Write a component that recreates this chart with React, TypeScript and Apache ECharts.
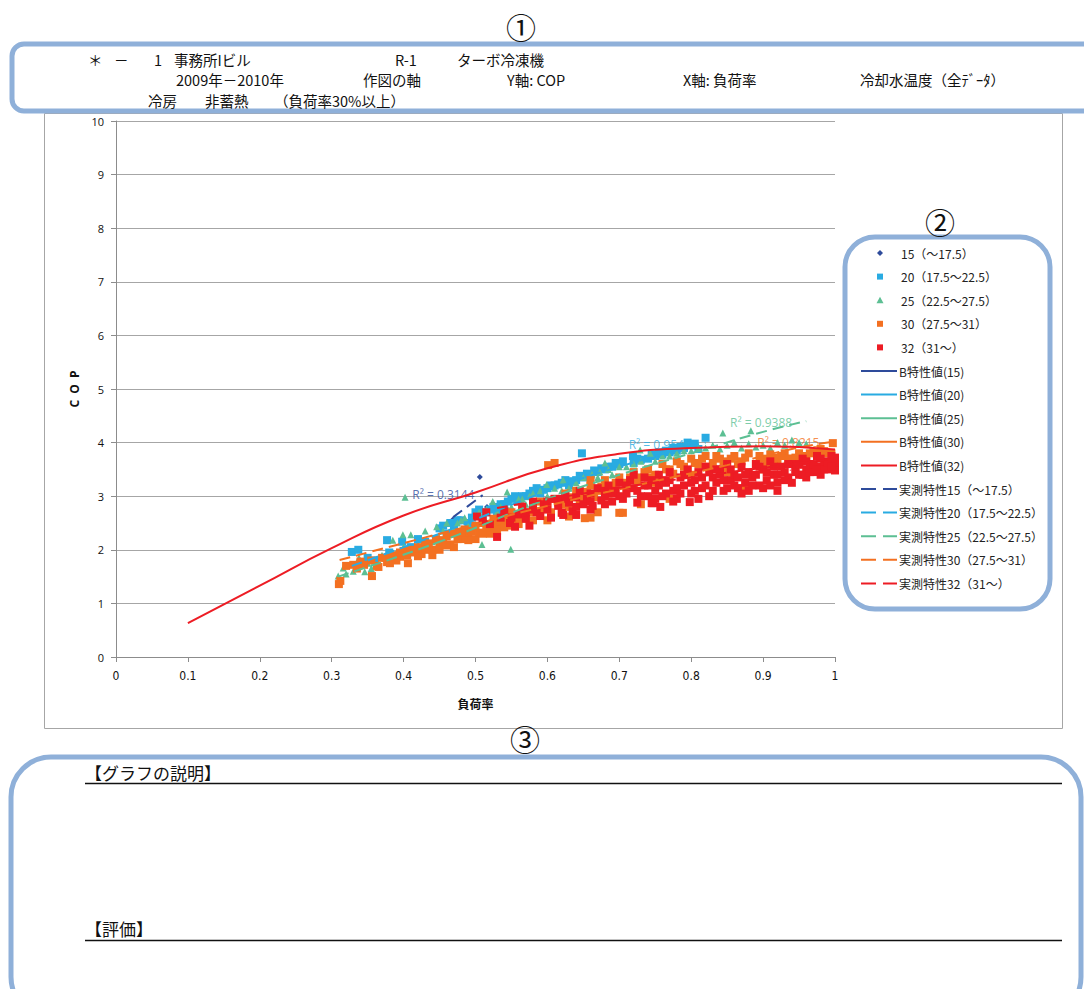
import React, { useEffect, useRef } from "react";
import * as echarts from "echarts";

// ---------- data ----------
const xTickValues = [0, 0.1, 0.2, 0.3, 0.4, 0.5, 0.6, 0.7, 0.8, 0.9, 1];
const yTickValues = [0, 1, 2, 3, 4, 5, 6, 7, 8, 9, 10];

const scatterNames = ["15（～17.5）", "20（17.5～22.5）", "25（22.5～27.5）", "30（27.5～31）", "32（31～）"];
const bNames = ["B特性値(15)", "B特性値(20)", "B特性値(25)", "B特性値(30)", "B特性値(32)"];
const trendNames = ["実測特性15（～17.5）", "実測特性20（17.5～22.5）", "実測特性25（22.5～27.5）", "実測特性30（27.5～31）", "実測特性32（31～）"];
const colors = ["#2e4b9b", "#29abe2", "#5cbf93", "#f37021", "#ed1c24"];

const pts15 = [[0.469, 2.57], [0.506, 3.36], [0.516, 2.8]];

const pts20 = [
  [0.328, 1.96], [0.337, 2.0], [0.35, 1.85], [0.36, 1.8], [0.377, 2.18], [0.38, 1.95], [0.398, 2.15],
  [0.41, 2.05], [0.42, 2.2], [0.43, 2.15], [0.45, 2.4], [0.46, 2.3], [0.47, 2.45], [0.48, 2.55],
  [0.49, 2.5], [0.5, 2.7], [0.51, 2.6], [0.52, 2.75], [0.53, 2.7], [0.54, 2.85], [0.55, 2.95],
  [0.56, 2.9], [0.57, 3.0], [0.58, 3.1], [0.59, 3.05], [0.6, 3.15], [0.61, 3.2], [0.62, 3.25],
  [0.63, 3.2], [0.64, 3.3], [0.648, 3.8], [0.65, 3.35], [0.66, 3.4], [0.67, 3.45], [0.68, 3.5],
  [0.69, 3.55], [0.7, 3.6], [0.719, 3.75], [0.72, 3.62], [0.73, 3.68], [0.74, 3.7], [0.75, 3.75],
  [0.76, 3.78], [0.77, 3.82], [0.78, 3.85], [0.785, 3.92], [0.79, 3.9], [0.795, 4.0], [0.8, 3.95],
  [0.81, 3.88], [0.82, 4.09],
  [0.455, 2.45], [0.465, 2.5], [0.475, 2.55], [0.495, 2.6], [0.505, 2.75], [0.515, 2.7], [0.525, 2.8],
  [0.535, 2.85], [0.545, 2.9], [0.555, 3.0], [0.565, 3.0], [0.575, 3.05], [0.585, 3.15], [0.595, 3.12],
  [0.605, 3.2], [0.615, 3.22], [0.625, 3.3], [0.635, 3.28], [0.645, 3.38], [0.655, 3.42], [0.665, 3.48],
  [0.675, 3.52], [0.685, 3.55], [0.695, 3.62], [0.705, 3.65], [0.725, 3.7], [0.745, 3.78], [0.755, 3.82],
  [0.765, 3.85], [0.775, 3.9], [0.805, 3.98]
];

const pts25 = [
  [0.309, 1.51], [0.316, 1.66], [0.32, 1.55], [0.338, 1.85], [0.346, 1.59], [0.35, 1.75], [0.36, 1.7],
  [0.37, 1.9], [0.385, 2.18], [0.39, 1.95], [0.399, 2.28], [0.4, 2.05], [0.402, 2.98], [0.41, 2.28],
  [0.42, 2.1], [0.43, 2.35], [0.44, 2.15], [0.446, 2.43], [0.45, 2.2], [0.46, 2.5], [0.47, 2.35],
  [0.48, 2.55], [0.49, 2.45], [0.5, 2.65], [0.509, 2.1], [0.51, 2.55], [0.52, 2.5], [0.524, 2.9],
  [0.53, 2.7], [0.544, 3.08], [0.549, 2.01], [0.55, 2.8], [0.56, 2.95], [0.57, 2.85], [0.58, 3.05],
  [0.599, 3.22], [0.6, 3.0], [0.622, 3.3], [0.63, 3.15], [0.65, 3.35], [0.662, 3.41], [0.673, 3.45],
  [0.68, 3.62], [0.69, 3.4], [0.7, 3.55], [0.72, 3.6], [0.729, 3.86], [0.743, 3.8], [0.75, 3.65],
  [0.77, 3.75], [0.79, 3.85], [0.81, 3.9], [0.83, 3.95], [0.844, 4.18], [0.85, 3.95], [0.86, 4.0],
  [0.87, 3.9], [0.88, 3.98], [0.883, 4.22], [0.9, 3.95], [0.92, 4.0], [0.94, 4.05], [0.96, 3.98],
  [0.455, 2.35], [0.475, 2.5], [0.485, 2.6], [0.505, 2.7], [0.515, 2.75], [0.535, 2.8], [0.545, 2.75],
  [0.565, 2.95], [0.575, 3.0], [0.59, 3.1], [0.61, 3.15], [0.62, 3.1], [0.64, 3.25], [0.66, 3.3],
  [0.67, 3.35], [0.685, 3.5], [0.71, 3.55], [0.73, 3.65], [0.76, 3.75], [0.78, 3.8], [0.8, 3.85],
  [0.82, 3.9], [0.84, 3.88], [0.89, 3.92], [0.91, 3.9], [0.93, 3.95], [0.95, 4.0], [0.33, 1.6], [0.355, 1.65]
];

const pts30 = [
  [0.31, 1.36], [0.312, 1.42], [0.32, 1.7], [0.33, 1.72], [0.34, 1.78], [0.356, 1.51], [0.363, 1.7],
  [0.37, 1.85], [0.377, 1.77], [0.381, 1.75], [0.385, 1.9], [0.395, 1.87], [0.4, 1.98], [0.406, 1.75],
  [0.41, 2.0], [0.42, 2.05], [0.425, 1.92], [0.43, 2.1], [0.44, 2.0], [0.44, 1.9], [0.445, 2.2],
  [0.45, 2.12], [0.46, 2.25], [0.465, 2.1], [0.47, 2.3], [0.47, 2.05], [0.48, 2.2], [0.485, 2.38],
  [0.49, 2.28], [0.5, 2.45], [0.5, 2.2], [0.505, 2.32], [0.51, 2.5], [0.52, 2.4], [0.52, 2.3],
  [0.525, 2.58], [0.53, 2.45], [0.54, 2.6], [0.545, 2.52], [0.55, 2.7], [0.55, 2.45], [0.56, 2.6],
  [0.565, 2.78], [0.57, 2.65], [0.58, 2.85], [0.58, 2.55], [0.585, 2.72], [0.59, 2.9], [0.6, 2.8],
  [0.601, 3.58], [0.61, 3.62], [0.61, 2.95], [0.62, 2.85], [0.62, 2.7], [0.625, 3.05], [0.63, 2.95],
  [0.64, 3.1], [0.65, 3.0], [0.652, 2.59], [0.66, 2.6], [0.66, 3.2], [0.66, 3.3], [0.67, 3.1],
  [0.68, 3.3], [0.69, 3.15], [0.7, 2.69], [0.705, 2.69], [0.7, 3.35], [0.71, 3.25], [0.72, 3.45],
  [0.73, 3.35], [0.74, 3.5], [0.75, 3.4], [0.75, 3.25], [0.76, 3.6], [0.77, 3.5], [0.78, 3.65],
  [0.79, 3.55], [0.8, 3.7], [0.8, 3.4], [0.81, 3.6], [0.82, 3.75], [0.83, 3.62], [0.84, 3.7],
  [0.85, 3.55], [0.85, 3.45], [0.86, 3.75], [0.868, 3.15], [0.875, 3.15], [0.87, 3.65], [0.88, 3.8],
  [0.89, 3.6], [0.9, 3.7], [0.9, 3.5], [0.91, 3.78], [0.92, 3.65], [0.93, 3.8], [0.94, 3.7],
  [0.95, 3.8], [0.96, 3.75], [0.97, 3.82], [0.98, 3.88], [0.99, 3.8], [0.997, 3.99],
  [0.335, 1.65], [0.345, 1.72], [0.355, 1.8], [0.365, 1.68], [0.375, 1.85], [0.39, 1.8], [0.395, 1.95],
  [0.405, 1.9], [0.415, 1.95], [0.42, 1.88], [0.43, 2.0], [0.435, 2.12], [0.45, 2.0], [0.455, 2.18],
  [0.46, 2.08], [0.475, 2.2], [0.48, 2.32], [0.49, 2.18], [0.495, 2.35], [0.51, 2.3], [0.515, 2.42],
  [0.53, 2.35], [0.535, 2.52], [0.54, 2.42], [0.555, 2.55], [0.56, 2.48], [0.57, 2.58], [0.575, 2.7],
  [0.59, 2.65], [0.595, 2.78], [0.605, 2.7], [0.615, 2.88], [0.63, 2.8], [0.635, 2.98], [0.645, 2.9],
  [0.655, 3.08], [0.665, 2.98], [0.675, 3.18], [0.685, 3.05], [0.695, 3.25], [0.71, 3.15], [0.715, 3.35],
  [0.725, 3.3], [0.735, 3.45], [0.745, 3.35], [0.765, 3.5], [0.775, 3.42], [0.785, 3.6], [0.795, 3.48],
  [0.805, 3.62], [0.815, 3.7], [0.825, 3.55], [0.835, 3.75], [0.845, 3.65], [0.855, 3.7], [0.865, 3.6],
  [0.875, 3.72], [0.895, 3.75], [0.905, 3.62], [0.915, 3.72], [0.925, 3.75], [0.935, 3.7], [0.945, 3.72],
  [0.955, 3.7], [0.965, 3.8], [0.975, 3.76], [0.985, 3.84], [0.995, 3.8],
  [0.6, 2.55], [0.63, 2.62], [0.67, 2.7], [0.73, 2.85], [0.77, 2.95]
];

const pts32 = [
  [0.502, 2.62], [0.51, 2.55], [0.515, 2.7], [0.52, 2.48], [0.53, 2.24], [0.535, 2.6], [0.54, 2.72],
  [0.548, 2.5], [0.555, 2.43], [0.56, 2.66], [0.565, 2.8], [0.57, 2.58], [0.575, 2.45], [0.58, 2.9],
  [0.58, 2.75], [0.585, 2.7], [0.59, 2.63], [0.595, 2.85], [0.6, 2.75], [0.605, 2.6], [0.61, 2.95],
  [0.615, 2.82], [0.62, 2.69], [0.62, 2.95], [0.625, 3.0], [0.63, 2.88], [0.635, 2.72], [0.64, 2.98],
  [0.64, 2.8], [0.645, 3.1], [0.65, 2.85], [0.655, 2.95], [0.66, 3.05], [0.66, 2.9], [0.663, 2.82],
  [0.67, 3.15], [0.675, 2.92], [0.68, 3.0], [0.68, 3.1], [0.685, 3.2], [0.69, 2.9], [0.695, 3.1],
  [0.7, 3.25], [0.705, 2.95], [0.71, 3.05], [0.715, 3.3], [0.72, 3.15], [0.72, 3.4], [0.725, 2.88],
  [0.73, 3.0], [0.735, 3.35], [0.74, 3.2], [0.74, 3.0], [0.745, 2.87], [0.75, 3.1], [0.755, 3.4],
  [0.757, 2.8], [0.76, 3.0], [0.76, 3.3], [0.765, 3.25], [0.77, 3.45], [0.775, 3.1], [0.78, 2.95],
  [0.78, 3.15], [0.785, 3.35], [0.79, 3.2], [0.795, 3.5], [0.8, 3.05], [0.805, 3.3], [0.81, 3.45],
  [0.815, 3.15], [0.82, 3.55], [0.82, 3.2], [0.825, 3.0], [0.83, 3.35], [0.835, 3.25], [0.84, 3.5],
  [0.84, 3.4], [0.845, 3.1], [0.85, 3.6], [0.855, 3.3], [0.86, 3.4], [0.86, 3.2], [0.865, 3.15],
  [0.87, 3.55], [0.875, 3.25], [0.88, 3.45], [0.88, 3.1], [0.885, 3.35], [0.89, 3.6], [0.895, 3.2],
  [0.9, 3.5], [0.9, 3.15], [0.905, 3.3], [0.91, 3.65], [0.915, 3.4], [0.92, 3.25], [0.92, 3.1],
  [0.925, 3.55], [0.93, 3.45], [0.935, 3.35], [0.94, 3.6], [0.945, 3.5], [0.95, 3.4], [0.955, 3.7],
  [0.96, 3.5], [0.96, 3.35], [0.965, 3.6], [0.97, 3.45], [0.975, 3.75], [0.98, 3.55], [0.98, 3.4],
  [0.985, 3.65], [0.99, 3.5], [0.995, 3.75], [1.0, 3.6], [1.0, 3.48],
  [0.7, 3.0], [0.71, 3.2], [0.725, 3.1], [0.735, 3.2], [0.745, 3.3], [0.75, 2.95], [0.755, 3.2],
  [0.765, 3.05], [0.77, 3.3], [0.775, 2.9], [0.785, 3.05], [0.79, 3.4], [0.8, 3.25], [0.805, 3.1],
  [0.81, 2.95], [0.815, 3.35], [0.825, 3.45], [0.83, 3.1], [0.835, 3.5], [0.845, 3.3], [0.85, 3.15],
  [0.855, 3.5], [0.865, 3.35], [0.87, 3.05], [0.875, 3.4], [0.885, 3.2], [0.89, 3.4], [0.895, 3.55],
  [0.905, 3.45], [0.91, 3.2], [0.915, 3.55], [0.92, 3.4], [0.93, 3.3], [0.935, 3.6], [0.94, 3.25],
  [0.945, 3.45], [0.95, 3.6], [0.955, 3.4], [0.96, 3.65], [0.965, 3.45], [0.97, 3.6], [0.975, 3.5],
  [0.98, 3.7], [0.985, 3.5], [0.99, 3.62], [0.995, 3.55], [1.0, 3.72], [0.64, 2.65], [0.66, 2.75],
  [0.68, 2.85], [0.69, 3.05], [0.6, 2.9], [0.57, 2.7], [0.55, 2.6], [0.747, 2.87], [0.798, 2.89], [0.622, 2.65]
];

const bCurve32 = [
  [0.1, 0.63], [0.2, 1.33], [0.3, 2.03], [0.4, 2.64], [0.5, 3.07], [0.6, 3.52], [0.7, 3.79],
  [0.8, 3.9], [0.9, 3.93], [1.0, 3.87]
];

const trend15 = [[0.469, 2.61], [0.51, 3.02]];
const trend20 = [[0.328, 1.7], [0.45, 2.3], [0.6, 3.1], [0.7, 3.55], [0.82, 4.0]];
const trend25 = [[0.309, 1.5], [0.45, 2.15], [0.6, 2.95], [0.7, 3.4], [0.8, 3.8], [0.9, 4.2], [0.96, 4.4]];
const trend30 = [[0.311, 1.81], [0.45, 2.3], [0.6, 2.82], [0.75, 3.28], [0.85, 3.58], [0.94, 3.88], [1.0, 4.02]];
const trend32 = [[0.53, 2.78], [0.65, 3.05], [0.8, 3.35], [1.0, 3.7]];

const r2Texts = ["R² = 0.3144", "R² = 0.9544", "R² = 0.9388", "R² = 0.8215", "R² = 0.7468"];
const r2Anchors = [[0.412, 3.04], [0.713, 3.97], [0.854, 4.38], [0.892, 4.01], [0.892, 3.56]];

// ---------- component ----------
const JP = "'Noto Sans CJK JP', 'Noto Sans', sans-serif";

export default function App() {
  const ref = useRef<HTMLDivElement>(null);

  useEffect(() => {
    document.body.style.margin = "0";
    if (!ref.current) return;
    const chart = echarts.init(ref.current, undefined, { renderer: "svg" });

    const scatterSymbols = ["diamond", "rect", "triangle", "rect", "rect"];
    const scatterSizes = [6, 8, 7, 8, 8];
    const scatterData = [pts15, pts20, pts25, pts30, pts32];
    const bData: number[][][] = [[], [], [], [], bCurve32];
    const trendData = [trend15, trend20, trend25, trend30, trend32];

    const series: any[] = [];
    series.push({
      name: "R2",
      type: "scatter",
      z: 1,
      silent: true,
      symbolSize: 0,
      data: r2Anchors.map((p, i) => ({
        value: p,
        label: {
          show: true,
          position: "right",
          distance: 0,
          formatter: r2Texts[i],
          color: colors[i],
          fontSize: 12,
          fontFamily: "'Open Sans', 'Liberation Sans', sans-serif",
        },
      })),
    });
    scatterData.forEach((d, i) => {
      series.push({
        name: scatterNames[i],
        type: "scatter",
        z: 2,
        symbol: scatterSymbols[i],
        symbolSize: scatterSizes[i],
        itemStyle: { color: colors[i], opacity: 1 },
        data: d,
      });
    });
    bData.forEach((d, i) => {
      series.push({
        name: bNames[i],
        type: "line",
        z: 4,
        smooth: true,
        showSymbol: false,
        symbol: "none",
        lineStyle: { color: colors[i], width: 2 },
        data: d,
      });
    });
    trendData.forEach((d, i) => {
      series.push({
        name: trendNames[i],
        type: "line",
        z: 3,
        smooth: true,
        showSymbol: false,
        symbol: "none",
        lineStyle: { color: colors[i], width: 2, type: [11, 6] },
        data: d,
      });
    });

    // custom legend
    const legendX = 861;
    const legendY0 = 253;
    const legendStep = 23.6;
    const legendEls: any[] = [];
    const allNames = [...scatterNames, ...bNames, ...trendNames];
    allNames.forEach((name, k) => {
      const cy = legendY0 + k * legendStep;
      const ci = k % 5;
      const col = colors[ci];
      if (k < 5) {
        const mx = 880;
        if (ci === 0) {
          legendEls.push({ type: "polygon", shape: { points: [[mx, cy - 3], [mx + 3, cy], [mx, cy + 3], [mx - 3, cy]] }, style: { fill: col } });
        } else if (ci === 2) {
          legendEls.push({ type: "polygon", shape: { points: [[mx, cy - 3.5], [mx + 3.5, cy + 3], [mx - 3.5, cy + 3]] }, style: { fill: col } });
        } else {
          legendEls.push({ type: "rect", shape: { x: mx - 3, y: cy - 3, width: 6, height: 6 }, style: { fill: col } });
        }
        legendEls.push({ type: "text", x: 901, y: cy, style: { text: name, fontSize: 12, lineHeight: 14, fontFamily: JP, fill: "#222", verticalAlign: "middle" } });
      } else {
        legendEls.push({
          type: "line",
          shape: { x1: legendX, y1: cy, x2: legendX + 36, y2: cy },
          style: { stroke: col, lineWidth: 2, lineDash: k >= 10 ? [15, 7] : null },
        });
        legendEls.push({ type: "text", x: 899, y: cy, style: { text: name, fontSize: 12, lineHeight: 14, fontFamily: JP, fill: "#222", verticalAlign: "middle" } });
      }
    });

    const boxColor = "#8fb0d9";
    const hdr = (text: string, x: number, y: number) => ({
      type: "text",
      x,
      y,
      style: { text, fontSize: 14.5, lineHeight: 15, fontFamily: JP, fill: "#111", verticalAlign: "middle" },
    });

    const graphic: any[] = [
      { type: "rect", z: 0, shape: { x: 44.5, y: 113.5, width: 1018, height: 615 }, style: { fill: "none", stroke: "#a6a6a6", lineWidth: 1 } },
      { type: "rect", shape: { x: 12, y: 44, width: 1090, height: 67, r: 12 }, style: { fill: "none", stroke: boxColor, lineWidth: 5 } },
      { type: "rect", shape: { x: 845, y: 237, width: 205, height: 372, r: 30 }, style: { fill: "none", stroke: boxColor, lineWidth: 5 } },
      { type: "rect", shape: { x: 11, y: 757, width: 1070, height: 260, r: 40 }, style: { fill: "none", stroke: boxColor, lineWidth: 5 } },
      { type: "text", x: 521, y: 26, style: { text: "①", fontSize: 30, fontFamily: JP, fill: "#111", align: "center", verticalAlign: "middle" } },
      { type: "text", x: 940, y: 221, style: { text: "②", fontSize: 30, fontFamily: JP, fill: "#111", align: "center", verticalAlign: "middle" } },
      { type: "text", x: 525, y: 738, style: { text: "③", fontSize: 30, fontFamily: JP, fill: "#111", align: "center", verticalAlign: "middle" } },
      hdr("＊", 88, 59),
      hdr("－", 114, 59),
      hdr("1", 154, 59),
      hdr("事務所Iビル", 174, 59),
      hdr("R-1", 395, 59),
      hdr("ターボ冷凍機", 457, 59),
      hdr("2009年－2010年", 176, 79.5),
      hdr("作図の軸", 363, 79.5),
      hdr("Y軸: COP", 507, 79.5),
      hdr("X軸: 負荷率", 683, 79.5),
      hdr("冷却水温度（全ﾃﾞｰﾀ）", 860, 79.5),
      hdr("冷房", 148, 100),
      hdr("非蓄熱", 205, 100),
      hdr("（負荷率30%以上）", 274, 100),
      { type: "text", x: 85, y: 772, style: { text: "【グラフの説明】", fontSize: 17, fontFamily: JP, fill: "#111", verticalAlign: "middle" } },
      { type: "line", shape: { x1: 85, y1: 783.5, x2: 1062, y2: 783.5 }, style: { stroke: "#111", lineWidth: 1.5 } },
      { type: "text", x: 85, y: 928, style: { text: "【評価】", fontSize: 17, fontFamily: JP, fill: "#111", verticalAlign: "middle" } },
      { type: "line", shape: { x1: 85, y1: 940.5, x2: 1062, y2: 940.5 }, style: { stroke: "#111", lineWidth: 1.5 } },
      ...legendEls,
    ];

    chart.setOption({
      animation: false,
      backgroundColor: "#ffffff",
      grid: { left: 116, top: 121, width: 719, height: 536, containLabel: false },
      xAxis: {
        type: "value",
        min: xTickValues[0],
        max: xTickValues[xTickValues.length - 1],
        interval: 0.1,
        name: "負荷率",
        nameLocation: "middle",
        nameGap: 40,
        nameTextStyle: { fontSize: 12, fontWeight: "bold", fontFamily: JP, color: "#111" },
        axisLine: { show: true, lineStyle: { color: "#8c8c8c", width: 1 } },
        axisTick: { show: true, length: 5, lineStyle: { color: "#8c8c8c" } },
        splitLine: { show: false },
        axisLabel: { fontSize: 12, color: "#111", margin: 13, fontFamily: "'Liberation Sans Narrow', 'DejaVu Sans Condensed', sans-serif" },
      },
      yAxis: {
        type: "value",
        min: yTickValues[0],
        max: yTickValues[yTickValues.length - 1],
        interval: 1,
        name: "C  O  P",
        nameLocation: "middle",
        nameGap: 36,
        nameRotate: 90,
        nameTextStyle: { fontSize: 12, fontWeight: "bold", fontFamily: "'Open Sans', sans-serif", color: "#111" },
        axisLine: { show: true, lineStyle: { color: "#8c8c8c", width: 1 } },
        axisTick: { show: true, length: 5, lineStyle: { color: "#8c8c8c" } },
        splitLine: { show: true, lineStyle: { color: "#a6a6a6", width: 1 } },
        axisLabel: { fontSize: 11, color: "#111", margin: 12, fontFamily: "'Open Sans', 'Liberation Sans', sans-serif" },
      },
      series,
      graphic,
    });

    return () => chart.dispose();
  }, []);

  return (
    <div
      ref={ref}
      style={{ position: "absolute", left: 0, top: 0, width: 1084, height: 989, background: "#fff" }}
    />
  );
}
